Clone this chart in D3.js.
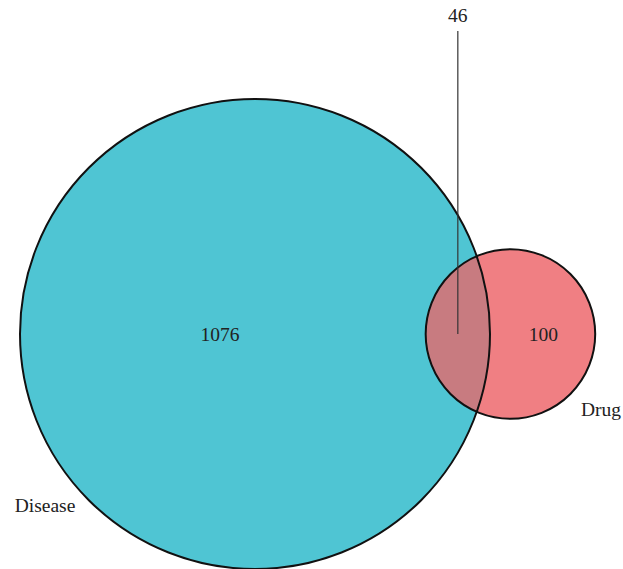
<!DOCTYPE html>
<html>
<head>
<meta charset="utf-8">
<script src="https://cdn.jsdelivr.net/npm/d3@7"></script>
<style>
  body { margin: 0; background: #fff; }
  text { font-family: "Liberation Serif", "DejaVu Serif", serif; fill: #222; }
</style>
</head>
<body>
<svg id="chart"></svg>
<script>
// set names, exclusive counts and the shared count
const setNames = ["Disease", "Drug"];
const onlyCounts = [1076, 100];
const sharedCount = 46;
const setColors = ["#4fc5d3", "#f07f83"];
const overlapColor = "#c87b80";

const width = 623, height = 569;

const svg = d3.select("#chart")
  .attr("width", width)
  .attr("height", height);

// total size of each set
const totals = onlyCounts.map(c => c + sharedCount);

// radius proportional to sqrt of the set size
const rScale = d3.scaleSqrt()
  .domain([0, totals[0]])
  .range([0, 235]);

const r1 = rScale(totals[0]);
const r2 = rScale(totals[1]);
const k = r1 / Math.sqrt(totals[0]);          // px per sqrt(unit)
const targetArea = sharedCount * k * k * Math.PI;

// lens area between two circles at distance d
function lensArea(a, b, d) {
  if (d >= a + b) return 0;
  if (d <= Math.abs(a - b)) return Math.PI * Math.min(a, b) ** 2;
  const p1 = a * a * Math.acos((d * d + a * a - b * b) / (2 * d * a));
  const p2 = b * b * Math.acos((d * d + b * b - a * a) / (2 * d * b));
  const p3 = 0.5 * Math.sqrt((-d + a + b) * (d + a - b) * (d - a + b) * (d + a + b));
  return p1 + p2 - p3;
}

// bisect for the distance that gives the shared area
let lo = Math.abs(r1 - r2), hi = r1 + r2;
for (let i = 0; i < 60; i++) {
  const mid = (lo + hi) / 2;
  if (lensArea(r1, r2, mid) > targetArea) lo = mid; else hi = mid;
}
const dist = (lo + hi) / 2;

// place circles along x
const xScale = d3.scaleLinear().domain([0, 1]).range([255, 255 + dist]);
const cy = 334;

const circles = [
  { name: setNames[0], cx: xScale(0), r: r1, color: setColors[0] },
  { name: setNames[1], cx: xScale(1), r: r2, color: setColors[1] }
];

svg.append("defs").append("clipPath")
  .attr("id", "clipDisease")
  .append("circle")
  .attr("cx", circles[0].cx)
  .attr("cy", cy)
  .attr("r", circles[0].r);

svg.selectAll(".set")
  .data(circles)
  .join("circle")
  .attr("class", "set")
  .attr("cx", d => d.cx)
  .attr("cy", cy)
  .attr("r", d => d.r)
  .attr("fill", d => d.color);

// intersection
svg.append("circle")
  .attr("cx", circles[1].cx)
  .attr("cy", cy)
  .attr("r", circles[1].r)
  .attr("clip-path", "url(#clipDisease)")
  .attr("fill", overlapColor);

// outlines
svg.selectAll(".outline")
  .data(circles)
  .join("circle")
  .attr("class", "outline")
  .attr("cx", d => d.cx)
  .attr("cy", cy)
  .attr("r", d => d.r)
  .attr("fill", "none")
  .attr("stroke", "#111")
  .attr("stroke-width", 2);

// region labels
const lensMid = ((circles[1].cx - circles[1].r) + (circles[0].cx + circles[0].r)) / 2;

svg.append("text")
  .attr("x", circles[0].cx - 35)
  .attr("y", cy)
  .attr("dy", "0.35em")
  .attr("text-anchor", "middle")
  .style("font-size", "19.5px")
  .text(onlyCounts[0]);

svg.append("text")
  .attr("x", circles[1].cx + 33)
  .attr("y", cy)
  .attr("dy", "0.35em")
  .attr("text-anchor", "middle")
  .style("font-size", "19.5px")
  .text(onlyCounts[1]);

// shared label with leader line
svg.append("line")
  .attr("x1", lensMid)
  .attr("x2", lensMid)
  .attr("y1", 31)
  .attr("y2", cy)
  .attr("stroke", "#333")
  .attr("stroke-width", 1.2);

svg.append("text")
  .attr("x", lensMid)
  .attr("y", 15)
  .attr("dy", "0.35em")
  .attr("text-anchor", "middle")
  .style("font-size", "19.5px")
  .text(sharedCount);

// set names
svg.append("text")
  .attr("x", 45)
  .attr("y", 505)
  .attr("dy", "0.35em")
  .attr("text-anchor", "middle")
  .style("font-size", "19.5px")
  .text(setNames[0]);

svg.append("text")
  .attr("x", 601)
  .attr("y", 409)
  .attr("dy", "0.35em")
  .attr("text-anchor", "middle")
  .style("font-size", "19.5px")
  .text(setNames[1]);
</script>
</body>
</html>
